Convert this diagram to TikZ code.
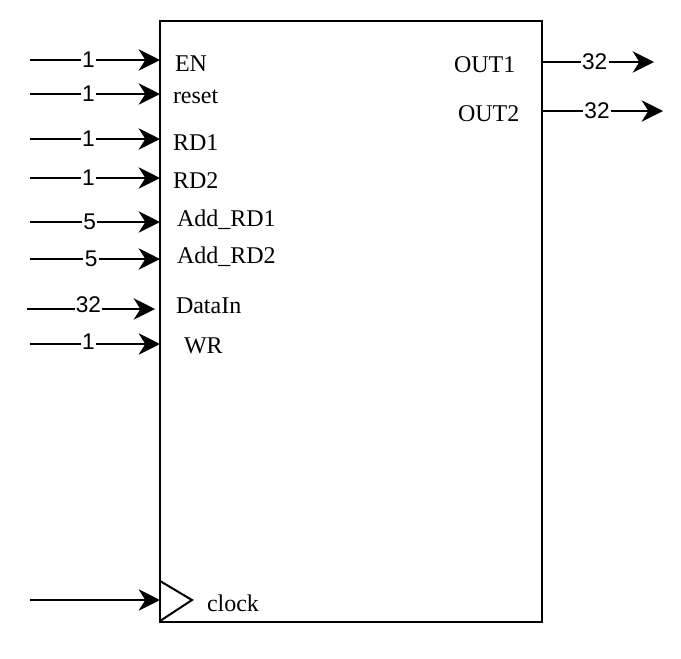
\documentclass[tikz,border=0pt]{standalone}
\usepackage{fontspec}
\setmainfont{Liberation Serif}
\newfontfamily\numfont{Liberation Sans}
\usetikzlibrary{arrows.meta}
\begin{document}
\begin{tikzpicture}[x=0.75pt,y=-0.75pt,line width=1.5pt,
pin/.style={-{Stealth[length=16pt,width=16pt,inset=5pt]}},
bus/.style={fill=white,inner sep=1pt,pos=.45,font=\numfont\fontsize{17}{18}\selectfont},
lbl/.style={anchor=base west,inner sep=0pt,font=\fontsize{18}{20}\selectfont}]
\useasboundingbox (0,0) rectangle (681,658);
\coordinate (nw) at (160,21);\coordinate (se) at (542,622);
\draw (nw) rectangle (se);
\coordinate (i1) at (30,60);\coordinate (p1) at (160,60);
\coordinate (i2) at (30,94);\coordinate (p2) at (160,94);
\coordinate (i3) at (30,139);\coordinate (p3) at (160,139);
\coordinate (i4) at (30,178);\coordinate (p4) at (160,178);
\coordinate (i5) at (30,222);\coordinate (p5) at (160,222);
\coordinate (i6) at (30,259);\coordinate (p6) at (160,259);
\coordinate (i7) at (27,309);\coordinate (p7) at (155,309);
\coordinate (i8) at (30,344);\coordinate (p8) at (160,344);
\coordinate (i9) at (30,600);\coordinate (p9) at (160,600);
\draw[pin] (i1) -- node[bus]{1} (p1);\draw[pin] (i2) -- node[bus]{1} (p2);
\draw[pin] (i3) -- node[bus]{1} (p3);\draw[pin] (i4) -- node[bus]{1} (p4);
\draw[pin] (i5) -- node[bus,pos=.46]{5} (p5);\draw[pin] (i6) -- node[bus,pos=.47]{5} (p6);
\draw[pin] (i7) -- node[bus,pos=.48,yshift=3pt]{32} (p7);\draw[pin] (i8) -- node[bus,yshift=2pt]{1} (p8);
\draw[pin] (i9) -- (p9);
\node[lbl] (en) at (174,71) {EN};
\node[lbl] (rst) at (172,103) {reset};
\node[lbl] (rd1) at (172,150) {RD1};
\node[lbl] (rd2) at (172,188) {RD2};
\node[lbl] (ard1) at (176,226) {Add\_RD1};
\node[lbl] (ard2) at (176,263) {Add\_RD2};
\node[lbl] (din) at (175,313) {DataIn};
\node[lbl] (wr) at (183,353) {WR};
\node[lbl] (clk) at (206,611) {clock};
\coordinate (t1) at (160,581);\coordinate (t2) at (192,600);\coordinate (t3) at (160,621);
\draw (t1) -- (t2) -- (t3);
\node[lbl] (out1) at (453,72) {OUT1};
\node[lbl] (out2) at (457,121) {OUT2};
\coordinate (o1) at (542,62);\coordinate (q1) at (654,62);
\coordinate (o2) at (542,111);\coordinate (q2) at (663,111);
\draw[pin] (o1) -- node[bus,pos=.47]{32} (q1);\draw[pin] (o2) -- node[bus,pos=.455]{32} (q2);
\end{tikzpicture}
\end{document}
